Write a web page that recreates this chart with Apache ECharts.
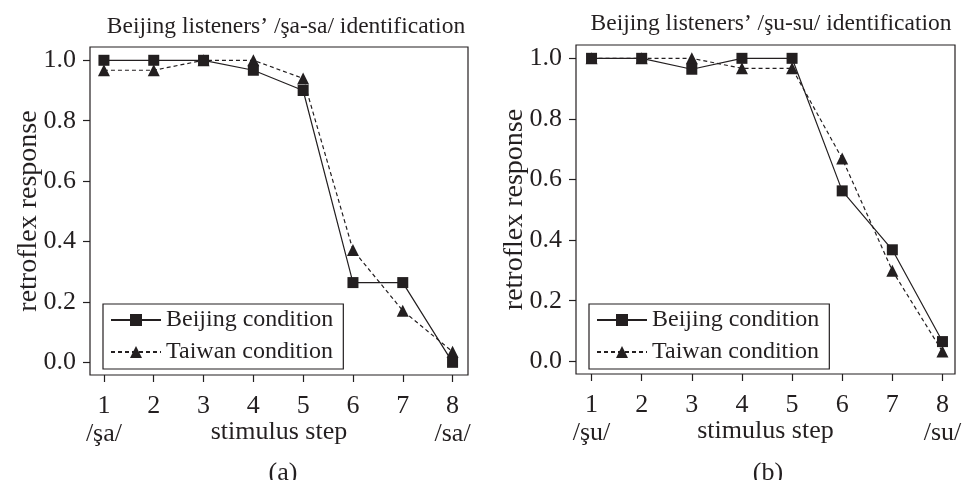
<!DOCTYPE html>
<html>
<head>
<meta charset="utf-8">
<script src="https://cdn.jsdelivr.net/npm/echarts@6/dist/echarts.min.js"></script>
<style>
html,body{margin:0;padding:0;background:#fff;}
#chart{width:965px;height:480px;}
</style>
</head>
<body>
<div id="chart"></div>
<script>
// ---- data ----
const steps = [1, 2, 3, 4, 5, 6, 7, 8];
const yTicks = [0, 0.2, 0.4, 0.6, 0.8, 1.0];
const titles = ['Beijing listeners\u2019 /\u015fa-sa/ identification', 'Beijing listeners\u2019 /\u015fu-su/ identification'];
const panelLabels = ['(a)', '(b)'];
const startLabels = ['/\u015fa/', '/\u015fu/'];
const endLabels = ['/sa/', '/su/'];
const seriesNames = ['Beijing condition', 'Taiwan condition'];
const saBeijing = [1.0, 1.0, 1.0, 0.967, 0.90, 0.264, 0.264, 0.0];
const saTaiwan  = [0.967, 0.967, 1.0, 1.0, 0.94, 0.372, 0.171, 0.035];
const suBeijing = [1.0, 1.0, 0.964, 1.0, 1.0, 0.5625, 0.368, 0.065];
const suTaiwan  = [1.0, 1.0, 1.0, 0.967, 0.967, 0.669, 0.299, 0.032];

const FONT = "'Liberation Serif', 'Times New Roman', serif";
const INK = '#231f20';

const chart = echarts.init(document.getElementById('chart'), null, {renderer: 'canvas'});

const grids = [
  {left: 90, top: 47, width: 378, height: 328},
  {left: 576, top: 45, width: 379, height: 329}
];
const panels = [[saBeijing, saTaiwan], [suBeijing, suTaiwan]];

function pairs(vals) { return steps.map((s, i) => [s, vals[i]]); }

const option = {
  animation: false,
  backgroundColor: '#fff',
  textStyle: {fontFamily: FONT, color: INK},
  title: [
    {text: titles[0], left: 281, top: 10, textAlign: 'center', textStyle: {fontFamily: FONT, fontSize: 23.5, fontWeight: 'normal', color: INK}},
    {text: titles[1], left: 766, top: 7, textAlign: 'center', textStyle: {fontFamily: FONT, fontSize: 23.5, fontWeight: 'normal', color: INK}},
    {text: panelLabels[0], left: 278, top: 455, textAlign: 'center', textStyle: {fontFamily: FONT, fontSize: 26, fontWeight: 'normal', color: INK}},
    {text: panelLabels[1], left: 763, top: 455, textAlign: 'center', textStyle: {fontFamily: FONT, fontSize: 26, fontWeight: 'normal', color: INK}}
  ],
  legend: grids.map((g, k) => ({
    data: seriesNames,
    orient: 'vertical',
    left: k === 0 ? 103 : 589,
    top: 304,
    padding: [4, 10, 5, 7],
    itemGap: 8,
    itemWidth: 50,
    itemHeight: 15,
    borderColor: INK,
    borderWidth: 1.2,
    backgroundColor: '#fff',
    selectedMode: false,
    textStyle: {fontFamily: FONT, fontSize: 24, color: INK}
  })),
  grid: grids.map(g => Object.assign({show: true, borderColor: INK, borderWidth: 1.2, backgroundColor: 'transparent', containLabel: false}, g)),
  xAxis: grids.map((g, k) => ({
    type: 'value',
    gridIndex: k,
    min: k === 0 ? 0.72 : 0.69,
    max: k === 0 ? 8.31 : 8.25,
    name: 'stimulus step',
    nameLocation: 'middle',
    nameGap: 44,
    nameMoveOverlap: false,
    nameTextStyle: {fontFamily: FONT, fontSize: 26, color: INK},
    splitLine: {show: false},
    axisLine: {show: false, onZero: false},
    axisTick: {show: true, inside: false, length: 7, lineStyle: {color: INK, width: 1.2}, customValues: steps},
    axisLabel: {
      customValues: steps,
      margin: 17,
      fontFamily: FONT, fontSize: 26, color: INK, lineHeight: 28,
      formatter: function (v) {
        if (v === steps[0]) return v + '\n' + startLabels[k];
        if (v === steps[steps.length - 1]) return v + '\n' + endLabels[k];
        return String(v);
      }
    }
  })),
  yAxis: grids.map((g, k) => ({
    type: 'value',
    gridIndex: k,
    min: -0.042,
    max: 1.044,
    name: 'retroflex response',
    nameLocation: 'middle',
    nameGap: 47,
    nameMoveOverlap: false,
    nameTextStyle: {fontFamily: FONT, fontSize: 28, color: INK},
    splitLine: {show: false},
    axisLine: {show: false, onZero: false},
    axisTick: {show: true, inside: false, length: 7, lineStyle: {color: INK, width: 1.2}, customValues: yTicks},
    axisLabel: {
      customValues: yTicks,
      margin: 14,
      fontFamily: FONT, fontSize: 26, color: INK,
      formatter: v => v.toFixed(1)
    }
  })),
  series: []
};

panels.forEach((p, k) => {
  option.series.push({
    name: seriesNames[1], type: 'line', xAxisIndex: k, yAxisIndex: k,
    data: pairs(p[1]), symbol: 'triangle', symbolSize: 12, z: 2,
    lineStyle: {color: INK, width: 1.2, type: [4, 3]},
    itemStyle: {color: INK}
  });
  option.series.push({
    name: seriesNames[0], type: 'line', xAxisIndex: k, yAxisIndex: k,
    data: pairs(p[0]), symbol: 'rect', symbolSize: 11, z: 3,
    lineStyle: {color: INK, width: 1.2, type: 'solid'},
    itemStyle: {color: INK}
  });
});

chart.setOption(option);
</script>
</body>
</html>
